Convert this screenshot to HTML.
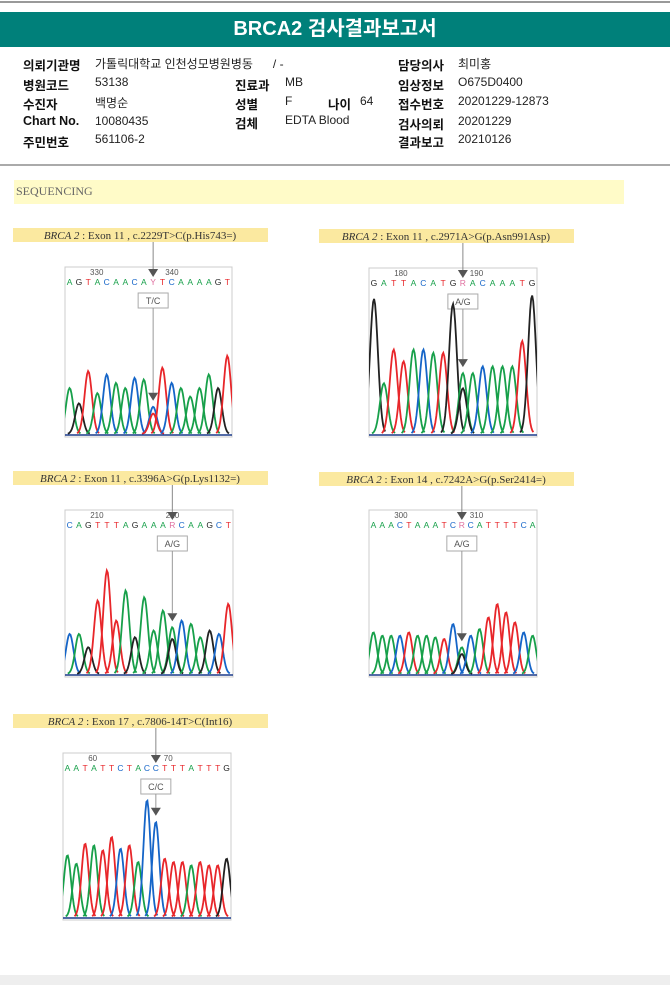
<!DOCTYPE html>
<html><head><meta charset="utf-8">
<style>
body{margin:0;width:670px;height:985px;background:#fff;position:relative;overflow:hidden;font-family:"Liberation Sans","Noto Sans CJK KR",sans-serif;}
.abs{position:absolute;}
#title{left:0;top:12px;width:670px;height:35px;background:#00807a;color:#fff;font-weight:bold;font-size:20px;text-align:center;line-height:35px;}
.lab{font-weight:bold;font-size:12.5px;color:#111;}
.val{font-size:12px;color:#222;}
</style></head><body>
<div class="abs" style="left:0;top:1px;width:670px;height:2px;background:#999"></div>
<div class="abs" id="title">BRCA2 검사결과보고서</div>
<div>
<span class="abs lab" style="left:23px;top:55px">의뢰기관명</span><span class="abs val" style="left:95px;top:55px">가톨릭대학교 인천성모병원병동&nbsp;&nbsp;&nbsp;&nbsp;&nbsp;&nbsp;/ -</span>
<span class="abs lab" style="left:398px;top:55px">담당의사</span><span class="abs val" style="left:458px;top:55px">최미홍</span>
<span class="abs lab" style="left:23px;top:75px">병원코드</span><span class="abs val" style="left:95px;top:75px">53138</span>
<span class="abs lab" style="left:235px;top:75px">진료과</span><span class="abs val" style="left:285px;top:75px">MB</span>
<span class="abs lab" style="left:398px;top:75px">임상정보</span><span class="abs val" style="left:458px;top:75px">O675D0400</span>
<span class="abs lab" style="left:23px;top:94px">수진자</span><span class="abs val" style="left:95px;top:94px">백명순</span>
<span class="abs lab" style="left:235px;top:94px">성별</span><span class="abs val" style="left:285px;top:94px">F</span>
<span class="abs lab" style="left:328px;top:94px">나이</span><span class="abs val" style="left:360px;top:94px">64</span>
<span class="abs lab" style="left:398px;top:94px">접수번호</span><span class="abs val" style="left:458px;top:94px">20201229-12873</span>
<span class="abs lab" style="left:23px;top:114px">Chart No.</span><span class="abs val" style="left:95px;top:114px">10080435</span>
<span class="abs lab" style="left:235px;top:113px">검체</span><span class="abs val" style="left:285px;top:113px">EDTA Blood</span>
<span class="abs lab" style="left:398px;top:114px">검사의뢰</span><span class="abs val" style="left:458px;top:114px">20201229</span>
<span class="abs lab" style="left:23px;top:132px">주민번호</span><span class="abs val" style="left:95px;top:132px">561106-2</span>
<span class="abs lab" style="left:398px;top:132px">결과보고</span><span class="abs val" style="left:458px;top:132px">20210126</span>
</div>
<div class="abs" style="left:0;top:164px;width:670px;height:2px;background:#aaa"></div>
<div class="abs" style="left:14px;top:180px;width:610px;height:24px;background:#fffbc8;font-family:'Liberation Serif',serif;font-size:12px;color:#666;line-height:22px;padding-left:2px;box-sizing:border-box">SEQUENCING</div>
<div class="abs" style="left:0;top:975px;width:670px;height:10px;background:#eee"></div>
<svg id="chart" class="abs" style="left:0;top:0" width="670" height="985"></svg>
<script>
const seq1="AGTACAACAYTCAAAAGT";
const h1=[.27,.18,.37,.24,.35,.3,.27,.33,.32,.16,.39,.3,.27,.22,.27,.35,.27,.46];
const seq2="GATTACATGRACAAATG";
const h2=[.8,.3,.5,.43,.5,.5,.48,.48,.77,.36,.36,.4,.4,.4,.4,.55,.82];
const seq3="CAGTTTAGAAARCAAGCT";
const h3=[.24,.24,.16,.44,.62,.32,.5,.22,.46,.26,.38,.28,.32,.3,.22,.26,.24,.42];
const seq4="AAACTAAATCRCATTTTCA";
const h4=[.25,.23,.23,.23,.25,.23,.23,.22,.21,.3,.16,.23,.27,.34,.42,.37,.31,.25,.23];
const seq5="AATATTCTACCTTTATTTG";
const h5=[.37,.32,.44,.43,.4,.48,.41,.43,.33,.7,.57,.35,.33,.33,.31,.33,.31,.31,.35];
const titles=["c.2229T>C(p.His743=)","c.2971A>G(p.Asn991Asp)","c.3396A>G(p.Lys1132=)","c.7242A>G(p.Ser2414=)","c.7806-14T>C(Int16)"];
const exons=["11","11","11","14","17"];
const calls=["T/C","A/G","A/G","A/G","C/C"];
const numLabels=[["330","340"],["180","190"],["210","220"],["300","310"],["60","70"]];
const panels=[
 {seq:seq1,h:h1,lx:13,ly:228,x:65,y:267,w:167,hh:170},
 {seq:seq2,h:h2,lx:319,ly:229,x:369,y:268,w:168,hh:169},
 {seq:seq3,h:h3,lx:13,ly:471,x:65,y:510,w:168,hh:167},
 {seq:seq4,h:h4,lx:319,ly:472,x:369,y:510,w:168,hh:167},
 {seq:seq5,h:h5,lx:13,ly:714,x:63,y:753,w:168,hh:167}];
const col={A:"#17a04a",C:"#1565c8",G:"#222",T:"#e8262a",R:"#e070a0",Y:"#e070a0"};
const mixMap={R:["A","G"],Y:["C","T"]};
const svg=document.getElementById('chart');
const NS="http://www.w3.org/2000/svg";
function mk(t,a,p){const e=document.createElementNS(NS,t);for(const k in a)e.setAttribute(k,a[k]);(p||svg).appendChild(e);return e;}
const defs=mk('defs',{});
panels.forEach((P,pi)=>{
 const cp=mk('clipPath',{id:'cp'+pi},defs);
 mk('rect',{x:P.x,y:P.y,width:P.w,height:P.hh},cp);
 const g=mk('g',{});
 
 
 mk('rect',{x:P.lx,y:P.ly,width:255,height:14,fill:'#fbe9a0'},g);
 const t=mk('text',{x:P.lx+127,y:P.ly+11,'text-anchor':'middle','font-family':'Liberation Serif,serif','font-size':11,fill:'#333'},g);
 t.innerHTML='<tspan font-style="italic">BRCA 2</tspan> : Exon '+exons[pi]+' , '+titles[pi];
 
 mk('rect',{x:P.x,y:P.y,width:P.w,height:P.hh,fill:'#fff',stroke:'#ccc','stroke-width':1},g);
 const n=P.seq.length,sp=P.w/n;
 const xs=i=>P.x+(i+0.5)*sp;
 const base=P.y+P.hh-3;
 const yv=v=>base-v*P.hh;
 let mi=P.seq.search(/[RY]/);if(mi<0)mi=P.seq.indexOf('CC',8)+1;
 const ax=xs(mi);
 mk('line',{x1:ax,y1:P.ly+14,x2:ax,y2:P.y+8,stroke:'#888'},g);
 mk('path',{d:`M${ax-5},${P.y+2}L${ax+5},${P.y+2}L${ax},${P.y+10}Z`,fill:'#555'},g);
 numLabels[pi].forEach((s,k)=>{const e=mk('text',{x:P.x+P.w*(k?0.6:0.15),y:P.y+8,'font-size':8,fill:'#555'},g);e.textContent=s;});
 for(let i=0;i<n;i++){const e=mk('text',{x:xs(i),y:P.y+18,'text-anchor':'middle','font-size':8.5,fill:col[P.seq[i]]},g);e.textContent=P.seq[i];}
 mk('rect',{x:ax-15,y:P.y+26,width:30,height:15,fill:'#fff',stroke:'#aaa'},g);
 const c=mk('text',{x:ax,y:P.y+37,'text-anchor':'middle','font-size':9,fill:'#555'},g);c.textContent=calls[pi];
 mk('line',{x1:ax,y1:P.y+41,x2:ax,y2:yv(P.h[mi])-14,stroke:'#999'},g);
 const pg=mk('g',{'clip-path':'url(#cp'+pi+')'},g);
 const sg=sp*0.4;
 function peak(i,v,b){let d='';for(let dx=-3*sg;dx<=3*sg;dx+=1){const xx=xs(i)+dx;const yy=base-v*P.hh*Math.exp(-dx*dx/(2*sg*sg));d+=(d?'L':'M')+xx.toFixed(1)+','+yy.toFixed(1);}
  const p=mk('path',{d:d,fill:'none',stroke:col[b],'stroke-width':1.8},pg);}
 for(let i=0;i<n;i++){const b=P.seq[i];
  if(mixMap[b]){peak(i,P.h[i],mixMap[b][0]);peak(i,P.h[i]*0.75,mixMap[b][1]);}else peak(i,P.h[i],b);}
 mk('path',{d:`M${ax-5},${yv(P.h[mi])-14}L${ax+5},${yv(P.h[mi])-14}L${ax},${yv(P.h[mi])-6}Z`,fill:'#555'},g);
 mk('line',{x1:P.x,y1:base+1,x2:P.x+P.w,y2:base+1,stroke:'#1a3a8a','stroke-width':1.5},g);
});
</script>
</body></html>
